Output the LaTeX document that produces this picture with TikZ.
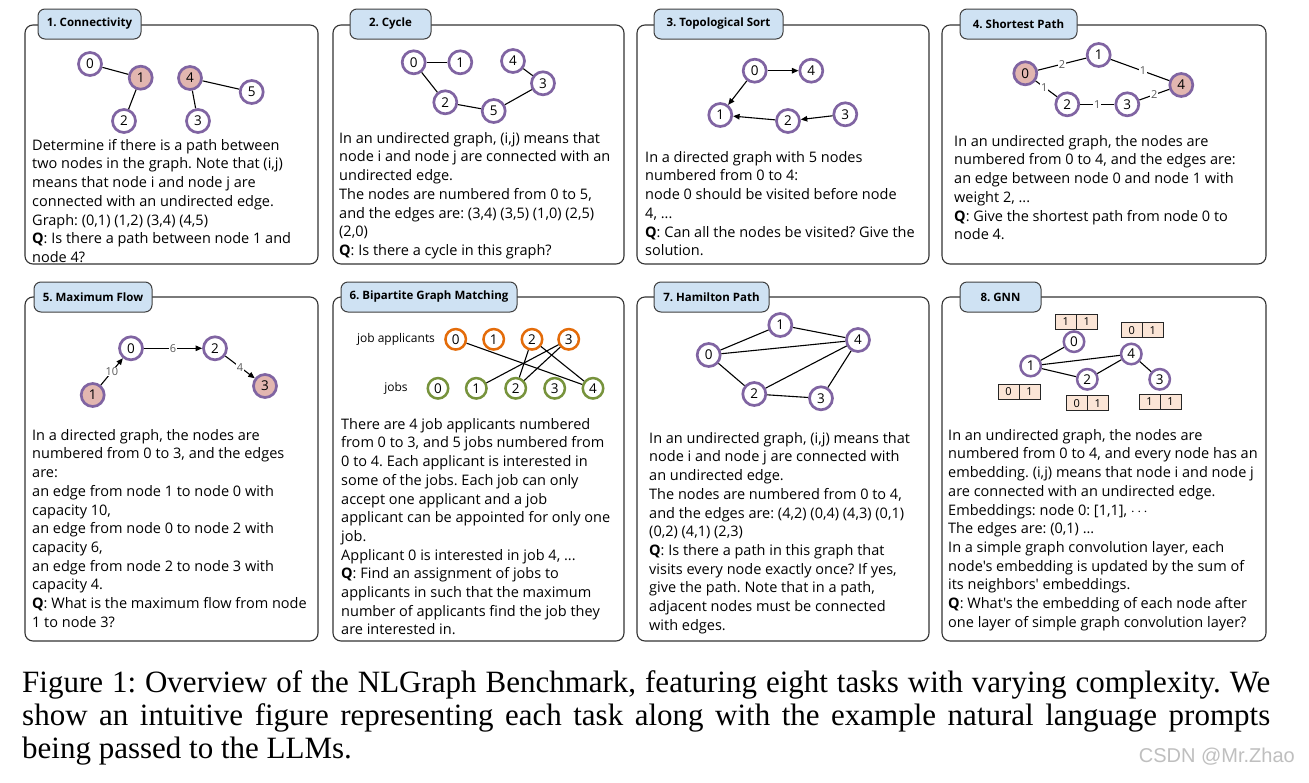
\documentclass[tikz,border=0pt]{standalone}
\usepackage{fontspec}
\setmainfont{Liberation Serif}
\newfontfamily\panelfont{Open Sans}
\newfontfamily\tabfont{Open Sans}
\newfontfamily\numfont{Open Sans}
\newfontfamily\markfont{Liberation Sans}
\usetikzlibrary{arrows.meta}
\definecolor{gpurple}{HTML}{8064A2}
\definecolor{gpink}{HTML}{E2B6B0}
\definecolor{gorange}{HTML}{E46C0A}
\definecolor{ggreen}{HTML}{77933C}
\definecolor{tabblue}{HTML}{CFE2F3}
\definecolor{embfill}{HTML}{FBE5D6}
\frenchspacing
\begin{document}
\begin{tikzpicture}[x=1pt,y=-1pt,
  frame/.style={draw=black!80, line width=1.1pt, rounded corners=8pt},
  tab/.style={draw=black!75, line width=1pt, fill=tabblue, rounded corners=7pt, inner sep=0pt,
    minimum height=30pt, font=\tabfont\bfseries\fontsize{11.5}{12}\selectfont},
  gn/.style={circle, draw=gpurple, line width=2.7pt, fill=white, minimum size=23pt, inner sep=0pt,
    font=\numfont\fontsize{13.5}{13.5}\selectfont},
  gs/.style={gn, minimum size=20.5pt, line width=2.5pt},
  hot/.style={fill=gpink},
  appl/.style={gs, draw=gorange},
  jobn/.style={gs, draw=ggreen},
  edge/.style={line width=1.1pt, black},
  arr/.style={edge, -{Triangle[length=6.5pt,width=5.5pt]}},
  wlbl/.style={font=\numfont\fontsize{11}{11}\selectfont, text=black!65, fill=white, inner sep=0.8pt},
  ptext/.style={anchor=north west, inner sep=0pt, align=left, font=\panelfont\fontsize{14.5}{18.7}\selectfont},
  cell/.style={draw=black!85, line width=0.9pt, fill=embfill, minimum width=21pt, minimum height=15pt,
    inner sep=0pt, font=\numfont\fontsize{11}{11}\selectfont},
  side/.style={font=\panelfont\fontsize{12}{12}\selectfont, inner sep=0pt}
]
\useasboundingbox[fill=white] (0,0) rectangle (1309,782);

% ---------- frames ----------
\draw[frame] (25,25) rectangle (318,264);
\draw[frame] (333,25) rectangle (624,264);
\draw[frame] (637,25) rectangle (929,264);
\draw[frame] (942,25) rectangle (1266,264);
\draw[frame] (25,297) rectangle (318,641);
\draw[frame] (333,297) rectangle (624,641);
\draw[frame] (637,297) rectangle (929,641);
\draw[frame] (942,297) rectangle (1266,641);

% ---------- tabs ----------
\node[tab, minimum width=103pt] (t1) at (89.5,24) {1. Connectivity};
\node[tab, minimum width=81pt] (t2) at (390.5,24) {2. Cycle};
\node[tab, minimum width=129pt] (t3) at (718.5,24) {3. Topological Sort};
\node[tab, minimum width=117pt] (t4) at (1018.5,24) {4. Shortest Path};
\node[tab, minimum width=118pt] (t5) at (93,297) {5. Maximum Flow};
\node[tab, minimum width=176pt] (t6) at (429,297) {6. Bipartite Graph Matching};
\node[tab, minimum width=115pt] (t7) at (711.5,297) {7. Hamilton Path};
\node[tab, minimum width=81pt] (t8) at (1000.5,297) {8. GNN};

% ---------- 1. Connectivity ----------
\node[gn] (a0) at (90,64) {0};
\node[gn,hot] (a1) at (140.7,77.7) {1};
\node[gn] (a2) at (124,121) {2};
\node[gn,hot] (a4) at (190,78) {4};
\node[gn] (a5) at (251.7,92) {5};
\node[gn] (a3) at (198,121) {3};
\draw[edge] (a0) -- (a1);
\draw[edge] (a1) -- (a2);
\draw[edge] (a4) -- (a5);
\draw[edge] (a4) -- (a3);
\node[ptext] (x1) at (32,139) {Determine if there is a path between\\
two nodes in the graph. Note that (i,j)\\
means that node i and node j are\\
connected with an undirected edge.\\
Graph: (0,1) (1,2) (3,4) (4,5)\\
\textbf{Q}: Is there a path between node 1 and\\
node 4?};

% ---------- 2. Cycle ----------
\node[gn] (b0) at (413.7,62.3) {0};
\node[gn] (b1) at (460.3,62.3) {1};
\node[gn] (b4) at (513,61) {4};
\node[gn] (b3) at (543,83.3) {3};
\node[gn] (b2) at (445.3,102.3) {2};
\node[gn] (b5) at (493.7,111) {5};
\draw[edge] (b0) -- (b1);
\draw[edge] (b0) -- (b2);
\draw[edge] (b2) -- (b5);
\draw[edge] (b5) -- (b3);
\draw[edge] (b3) -- (b4);
\node[ptext] (x2) at (339,132) {In an undirected graph, (i,j) means that\\
node i and node j are connected with an\\
undirected edge.\\
The nodes are numbered from 0 to 5,\\
and the edges are: (3,4) (3,5) (1,0) (2,5)\\
(2,0)\\
\textbf{Q}: Is there a cycle in this graph?};

% ---------- 3. Topological Sort ----------
\node[gn] (c0) at (754.7,70.7) {0};
\node[gn] (c4) at (811.3,70.7) {4};
\node[gn] (c1) at (720.3,115) {1};
\node[gn] (c2) at (788,121) {2};
\node[gn] (c3) at (845.3,114.3) {3};
\draw[arr] (c0) -- (c4);
\draw[arr] (c0) -- (c1);
\draw[arr] (c2) -- (c1);
\draw[arr] (c3) -- (c2);
\node[ptext] (x3) at (645,151) {In a directed graph with 5 nodes\\
numbered from 0 to 4:\\
node 0 should be visited before node\\
4, ...\\
\textbf{Q}: Can all the nodes be visited? Give the\\
solution.};

% ---------- 4. Shortest Path ----------
\node[gn,hot] (d0) at (1025.3,73.3) {0};
\node[gn] (d1) at (1098.7,55) {1};
\node[gn,hot] (d4) at (1181.3,85) {4};
\node[gn] (d2) at (1067.3,104.3) {2};
\node[gn] (d3) at (1127.3,104.3) {3};
\draw[edge] (d0) -- node[wlbl] (w01) {2} (d1);
\draw[edge] (d1) -- node[wlbl, pos=0.55] (w14) {1} (d4);
\draw[edge] (d0) -- node[wlbl, pos=0.4] (w02) {1} (d2);
\draw[edge] (d2) -- node[wlbl] (w23) {1} (d3);
\draw[edge] (d3) -- node[wlbl] (w34) {2} (d4);
\node[ptext] (x4) at (954,135) {In an undirected graph, the nodes are\\
numbered from 0 to 4, and the edges are:\\
an edge between node 0 and node 1 with\\
weight 2, ...\\
\textbf{Q}: Give the shortest path from node 0 to\\
node 4.};

% ---------- 5. Maximum Flow ----------
\node[gn] (e0) at (131,348.3) {0};
\node[gn] (e2) at (215,348.3) {2};
\node[gn,hot] (e1) at (92.7,395) {1};
\node[gn,hot] (e3) at (265,386) {3};
\draw[arr] (e1) -- node[wlbl] (w10) {10} (e0);
\draw[arr] (e0) -- node[wlbl] (w02b) {6} (e2);
\draw[arr] (e2) -- node[wlbl] (w23b) {4} (e3);
\node[ptext] (x5) at (32,429) {In a directed graph, the nodes are\\
numbered from 0 to 3, and the edges\\
are:\\
an edge from node 1 to node 0 with\\
capacity 10,\\
an edge from node 0 to node 2 with\\
capacity 6,\\
an edge from node 2 to node 3 with\\
capacity 4.\\
\textbf{Q}: What is the maximum flow from node\\
1 to node 3?};

% ---------- 6. Bipartite Graph Matching ----------
\node[side] (lab) at (396,339.3) {job applicants};
\node[side] (ljob) at (396,388.3) {jobs};
\node[appl] (f0) at (455.7,339.3) {0};
\node[appl] (f1) at (493.7,339.3) {1};
\node[appl] (f2) at (532,339.3) {2};
\node[appl] (f3) at (568.7,339.3) {3};
\node[jobn] (j0) at (438,388.3) {0};
\node[jobn] (j1) at (476.3,388.3) {1};
\node[jobn] (j2) at (515.7,388.3) {2};
\node[jobn] (j3) at (554.7,388.3) {3};
\node[jobn] (j4) at (593,388.3) {4};
\draw[edge] (f0) -- (j4);
\draw[edge] (f2) -- (j2);
\draw[edge] (f2) -- (j4);
\draw[edge] (f3) -- (j1);
\draw[edge] (f3) -- (j2);
\node[ptext] (x6) at (341,418) {There are 4 job applicants numbered\\
from 0 to 3, and 5 jobs numbered from\\
0 to 4. Each applicant is interested in\\
some of the jobs. Each job can only\\
accept one applicant and a job\\
applicant can be appointed for only one\\
job.\\
Applicant 0 is interested in job 4, ...\\
\textbf{Q}: Find an assignment of jobs to\\
applicants in such that the maximum\\
number of applicants find the job they\\
are interested in.};

% ---------- 7. Hamilton Path ----------
\node[gn] (g1) at (780.3,325) {1};
\node[gn] (g4) at (858,340) {4};
\node[gn] (g0) at (708.7,355) {0};
\node[gn] (g2) at (754.3,394) {2};
\node[gn] (g3) at (821,398.3) {3};
\draw[edge] (g0) -- (g1);
\draw[edge] (g1) -- (g4);
\draw[edge] (g0) -- (g4);
\draw[edge] (g0) -- (g2);
\draw[edge] (g2) -- (g4);
\draw[edge] (g2) -- (g3);
\draw[edge] (g3) -- (g4);
\node[ptext] (x7) at (649,432) {In an undirected graph, (i,j) means that\\
node i and node j are connected with\\
an undirected edge.\\
The nodes are numbered from 0 to 4,\\
and the edges are: (4,2) (0,4) (4,3) (0,1)\\
(0,2) (4,1) (2,3)\\
\textbf{Q}: Is there a path in this graph that\\
visits every node exactly once? If yes,\\
give the path. Note that in a path,\\
adjacent nodes must be connected\\
with edges.};

% ---------- 8. GNN ----------
\node[gs] (h0) at (1074,341.7) {0};
\node[gs] (h1) at (1030.7,366) {1};
\node[gs] (h4) at (1131.3,354) {4};
\node[gs] (h2) at (1087.3,379.3) {2};
\node[gs] (h3) at (1159.7,379.3) {3};
\draw[edge] (h0) -- (h1);
\draw[edge] (h1) -- (h4);
\draw[edge] (h1) -- (h2);
\draw[edge] (h2) -- (h4);
\draw[edge] (h4) -- (h3);
\node[cell] (m0a) at (1065.8,321.8) {1};
\node[cell] (m0b) at (1086.8,321.8) {1};
\node[cell] (m4a) at (1131.8,330.2) {0};
\node[cell] (m4b) at (1152.8,330.2) {1};
\node[cell] (m1a) at (1008.5,391.7) {0};
\node[cell] (m1b) at (1029.5,391.7) {1};
\node[cell] (m2a) at (1076.8,403.2) {0};
\node[cell] (m2b) at (1097.8,403.2) {1};
\node[cell] (m3a) at (1149.5,401.8) {1};
\node[cell] (m3b) at (1170.5,401.8) {1};
\node[ptext] (x8) at (948,429) {In an undirected graph, the nodes are\\
numbered from 0 to 4, and every node has an\\
embedding. (i,j) means that node i and node j\\
are connected with an undirected edge.\\
Embeddings: node 0: [1,1], $\cdots$\\
The edges are: (0,1) ...\\
In a simple graph convolution layer, each\\
node{\char"27}s embedding is updated by the sum of\\
its neighbors{\char"27} embeddings.\\
\textbf{Q}: What{\char"27}s the embedding of each node after\\
one layer of simple graph convolution layer?};

% ---------- caption ----------
\node[anchor=base west, inner sep=0pt, font=\fontsize{31}{33}\selectfont] (cap1) at (22,692)
  {\makebox[1248pt][s]{Figure 1: Overview of the NLGraph Benchmark, featuring eight tasks with varying complexity. We}};
\node[anchor=base west, inner sep=0pt, font=\fontsize{31}{33}\selectfont] (cap2) at (22,725)
  {\makebox[1248pt][s]{show an intuitive figure representing each task along with the example natural language prompts}};
\node[anchor=base west, inner sep=0pt, font=\fontsize{31}{33}\selectfont] (cap3) at (22,758)
  {being passed to the LLMs.};
\node[anchor=east, inner sep=0pt, text=black!25, font=\markfont\fontsize{20}{20}\selectfont] (wm) at (1295,757) {CSDN @Mr.Zhao};
\end{tikzpicture}
\end{document}
